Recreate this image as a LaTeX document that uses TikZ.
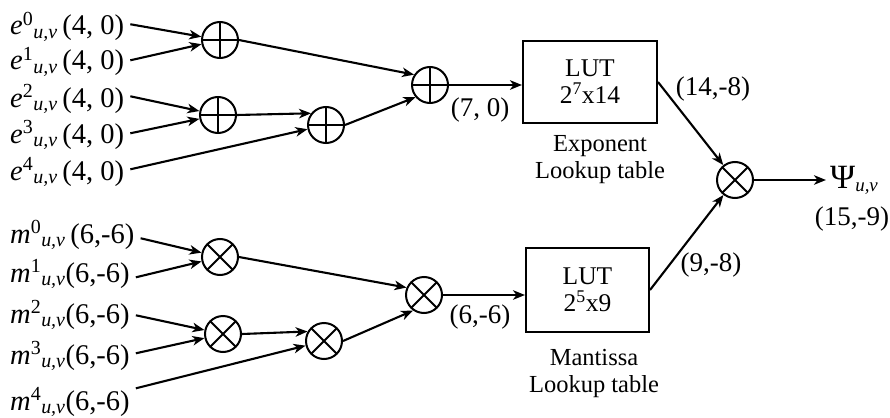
\documentclass[tikz,border=0pt]{standalone}
\usepackage{fontspec}
\setmainfont{Liberation Serif}
\usetikzlibrary{arrows.meta}
% input operand label: letter, exponent index, then the (bits) tuple
\newcommand\inlbl[3]{\textit{#1}\textsuperscript{#2}\textsubscript{\textit{u,v}}#3}

\begin{document}
\begin{tikzpicture}[x=1pt,y=-1pt,
  conn/.style={line width=2.1pt,-{Stealth[length=12pt,width=9.5pt,inset=3.5pt]}},
  opnode/.style={circle,draw,line width=2pt,minimum size=36pt,inner sep=0pt},
  addnode/.style={opnode,path picture={
      \draw[line width=2pt]
        (path picture bounding box.north)--(path picture bounding box.south)
        (path picture bounding box.west)--(path picture bounding box.east);}},
  mulnode/.style={opnode,path picture={
      \draw[line width=2pt]
        (path picture bounding box.north west)--(path picture bounding box.south east)
        (path picture bounding box.north east)--(path picture bounding box.south west);}},
  inlabel/.style={anchor=base west,inner xsep=6pt,inner ysep=0pt,
      font=\fontsize{28.5}{31}\selectfont},
  bits/.style={inner sep=0pt,font=\fontsize{27}{30}\selectfont},
  lutbox/.style={draw,line width=2pt,align=center,inner sep=0pt,
      font=\fontsize{25.5}{27}\selectfont},
  caption/.style={align=center,inner sep=0pt,font=\fontsize{24.5}{27}\selectfont}]

\useasboundingbox (0,0) rectangle (890,417);

% ---- exponent path ----
\node[inlabel] (e0) at (4,35)  {\inlbl{e}{0}{\,(4, 0)}};
\node[inlabel] (e1) at (4,70)  {\inlbl{e}{1}{\,(4, 0)}};
\node[inlabel] (e2) at (4,107) {\inlbl{e}{2}{\,(4, 0)}};
\node[inlabel] (e3) at (4,143) {\inlbl{e}{3}{\,(4, 0)}};
\node[inlabel] (e4) at (4,180) {\inlbl{e}{4}{\,(4, 0)}};

\node[addnode] (a1) at (220,40)  {};
\node[addnode] (a2) at (218,115) {};
\node[addnode] (a4) at (326,125) {};
\node[addnode] (a3) at (430,85)  {};

\node[lutbox,minimum width=134pt,minimum height=82pt] (lut1) at (590,82)
  {LUT\\2\textsuperscript{7}x14};
\node[caption] (expcap) at (600,160) {Exponent\\Lookup table};
\node[bits] (b70) at (480,110) {(7, 0)};
\node[bits] (b148) at (713,89) {(14,-8)};

\draw[conn] ([yshift=3pt]e0.east) -- (a1);
\draw[conn] ([yshift=2pt]e1.east) -- (a1);
\draw[conn] ([yshift=3pt]e2.east) -- (a2);
\draw[conn] ([yshift=2pt]e3.east) -- (a2);
\draw[conn] ([yshift=3pt]e4.east) -- (a4);
\draw[conn] (a2.east) -- (a4.142);
\draw[conn] (a1.east) -- (a3.147);
\draw[conn] (a4.east) -- (a3.220);
\draw[conn] (a3.east) -- (a3.east -| lut1.west);

% ---- mantissa path ----
\node[inlabel] (m0) at (4,243) {\inlbl{m}{0}{\,(6,-6)}};
\node[inlabel] (m1) at (4,282) {\inlbl{m}{1}{(6,-6)}};
\node[inlabel] (m2) at (4,323) {\inlbl{m}{2}{(6,-6)}};
\node[inlabel] (m3) at (4,364) {\inlbl{m}{3}{(6,-6)}};
\node[inlabel] (m4) at (4,410) {\inlbl{m}{4}{(6,-6)}};

\node[mulnode] (b1) at (220,257) {};
\node[mulnode] (b2) at (223,334) {};
\node[mulnode] (b4) at (324,341) {};
\node[mulnode] (b3) at (424,295) {};

\node[lutbox,minimum width=123pt,minimum height=84pt] (lut2) at (587.5,290)
  {LUT\\2\textsuperscript{5}x9};
\node[caption] (mancap) at (594,373) {Mantissa\\Lookup table};
\node[bits] (b66) at (480,317) {(6,-6)};
\node[bits] (b98) at (711,265) {(9,-8)};

\draw[conn] ([yshift=-3pt]m0.east) -- (b1);
\draw[conn] ([yshift=-3pt]m1.east) -- (b1);
\draw[conn] ([yshift=0pt]m2.east) -- (b2);
\draw[conn] ([yshift=3pt]m3.east) -- (b2);
\draw[conn] ([yshift=14pt]m4.east) -- (b4);
\draw[conn] (b2.east) -- (b4.150);
\draw[conn] (b1.east) -- (b3.157);
\draw[conn] (b4.east) -- (b3.235);
\draw[conn] (b3.east) -- (b3.east -| lut2.west);

% ---- final product ----
\node[mulnode] (fin) at (735,180) {};
\node[anchor=base west,inner xsep=4pt,inner ysep=0pt,font=\fontsize{34}{36}\selectfont]
  (psi) at (826,188) {Ψ\fontsize{27}{30}\selectfont\textsubscript{\textit{u,v}}};
\node[bits] (b159) at (852,219) {(15,-9)};

\draw[conn] (lut1.east) -- (fin);
\draw[conn] (lut2.east) -- (fin);
\draw[conn] (fin.east) -- (fin.east -| psi.west);
\end{tikzpicture}
\end{document}
